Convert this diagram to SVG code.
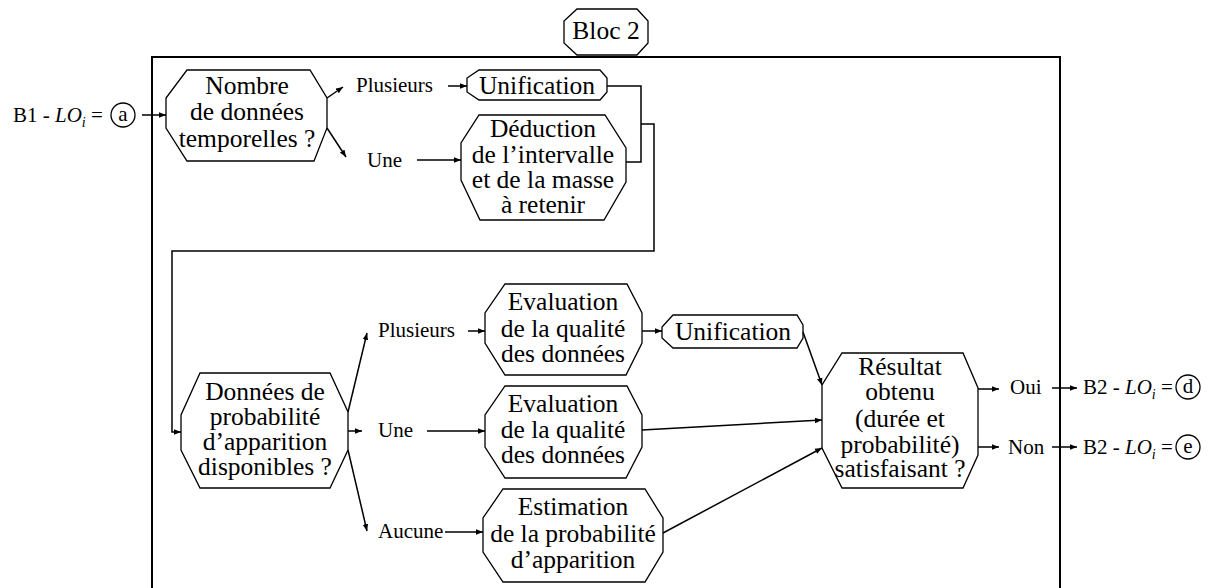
<svg xmlns="http://www.w3.org/2000/svg" width="1215" height="588" viewBox="0 0 1215 588">
<style>
.n{fill:#fff;stroke:#000;stroke-width:1.3}
text{font-family:"Liberation Serif","Times New Roman",serif;fill:#000}
.t{font-size:25.5px;text-anchor:middle}
.l{font-size:21px}
.c{fill:none;stroke:#000;stroke-width:1.5}
.a{fill:none;stroke:#000;stroke-width:1.5;marker-end:url(#ar)}
.ci{fill:#fff;stroke:#000;stroke-width:1.3}
</style>
<defs>
<marker id="ar" viewBox="0 0 10 10" refX="10" refY="5" markerWidth="7" markerHeight="7" markerUnits="userSpaceOnUse" orient="auto">
<path d="M0,1 L10,5 L0,9 Z" fill="#000"/>
</marker>
</defs>
<rect width="1215" height="588" fill="#fff"/>
<g id="frame"><path d="M152,592 V57 H1060 V592" fill="none" stroke="#000" stroke-width="2"/></g>
<g id="bloc2"><polygon class="n" points="577,9 637,9 648,21 648,43 637,55 577,55 564,43 564,21"/><text class="t" x="606" y="39">Bloc 2</text></g>
<g id="input"><text class="l" x="13" y="122">B1 - <tspan font-style="italic">LO</tspan><tspan font-style="italic" font-size="14" dy="5">i</tspan><tspan dy="-5"> =</tspan></text><circle class="ci" cx="123" cy="115" r="12"/><text class="l" x="123" y="121" text-anchor="middle">a</text></g>
<g id="n1"><polygon class="n" points="187,70 310,70 327,98 327,128 314,161 187,161 166,128 166,98"/><text class="t" x="247" y="94">Nombre</text><text class="t" x="247" y="120">de données</text><text class="t" x="247" y="147">temporelles ?</text></g>
<g id="lbl1"><text class="l" x="356" y="92">Plusieurs</text><text class="l" x="367" y="167">Une</text></g>
<g id="unif1"><polygon class="n" points="479,70 600,70 607,78 607,92 600,100 479,100 467,92 467,78"/><text class="t" x="537" y="94">Unification</text></g>
<g id="deduc"><polygon class="n" points="479,115 605,115 626,148 626,182 604,220 480,220 461,180 461,143"/><text class="t" x="543" y="137">Déduction</text><text class="t" x="543" y="163">de l’intervalle</text><text class="t" x="543" y="188">et de la masse</text><text class="t" x="543" y="213">à retenir</text></g>
<g id="n2"><polygon class="n" points="200,373 330,373 348,412 348,450 330,488 200,488 181,450 181,415"/><text class="t" x="265" y="400">Données de</text><text class="t" x="265" y="425">probabilité</text><text class="t" x="265" y="450">d’apparition</text><text class="t" x="265" y="475">disponibles ?</text></g>
<g id="lbl2"><text class="l" x="378" y="337">Plusieurs</text><text class="l" x="378" y="437">Une</text><text class="l" x="378" y="538">Aucune</text></g>
<g id="eval1"><polygon class="n" points="505,284 627,284 642,313 642,343 626,375 505,375 485,343 485,313"/><text class="t" x="563" y="310">Evaluation</text><text class="t" x="563" y="337">de la qualité</text><text class="t" x="563" y="362">des données</text></g>
<g id="unif2"><polygon class="n" points="673,315 797,315 803,325 803,338 797,348 673,348 662,338 662,327"/><text class="t" x="733" y="340">Unification</text></g>
<g id="eval2"><polygon class="n" points="505,386 627,386 642,415 642,447 626,478 505,478 485,447 485,415"/><text class="t" x="563" y="412">Evaluation</text><text class="t" x="563" y="438">de la qualité</text><text class="t" x="563" y="463">des données</text></g>
<g id="estim"><polygon class="n" points="503,489 645,489 663,518 663,552 645,582 503,582 483,552 483,518"/><text class="t" x="573" y="515">Estimation</text><text class="t" x="573" y="542">de la probabilité</text><text class="t" x="573" y="568">d’apparition</text></g>
<g id="result"><polygon class="n" points="842,353 963,353 978,388 978,455 963,488 842,488 822,448 822,385"/><text class="t" x="900" y="375">Résultat</text><text class="t" x="900" y="400">obtenu</text><text class="t" x="900" y="427">(durée et</text><text class="t" x="900" y="453">probabilité)</text><text class="t" x="900" y="477">satisfaisant ?</text></g>
<g id="outputs"><text class="l" x="1010" y="394">Oui</text><text class="l" x="1008" y="454">Non</text>
<text class="l" x="1083" y="394">B2 - <tspan font-style="italic">LO</tspan><tspan font-style="italic" font-size="14" dy="5">i</tspan><tspan dy="-5"> =</tspan></text><circle class="ci" cx="1188" cy="387" r="12"/><text class="l" x="1188" y="393" text-anchor="middle">d</text>
<text class="l" x="1083" y="454">B2 - <tspan font-style="italic">LO</tspan><tspan font-style="italic" font-size="14" dy="5">i</tspan><tspan dy="-5"> =</tspan></text><circle class="ci" cx="1188" cy="447" r="12"/><text class="l" x="1188" y="453" text-anchor="middle">e</text></g>
<g id="connectors">
<path class="a" d="M142,115 H166"/>
<path class="a" d="M327,98 L343,87"/>
<path class="a" d="M327,128 L346,157"/>
<path class="a" d="M448,86 H467"/>
<path class="a" d="M417,160 H461"/>
<path class="c" d="M607,86 H641 V162 H626"/>
<path class="a" d="M641,124 H654 V251 H172 V432 H181"/>
<path class="a" d="M348,412 L367,333"/>
<path class="a" d="M348,431 H362"/>
<path class="a" d="M348,450 L367,531"/>
<path class="a" d="M468,331 H485"/>
<path class="a" d="M427,431 H485"/>
<path class="a" d="M445,532 H483"/>
<path class="a" d="M642,331 H662"/>
<path class="a" d="M803,332 L822,385"/>
<path class="a" d="M642,430 L822,420"/>
<path class="a" d="M663,533 L822,448"/>
<path class="a" d="M978,389 H999"/>
<path class="a" d="M978,447 H999"/>
<path class="a" d="M1052,388 H1077"/>
<path class="a" d="M1052,447 H1077"/>
</g>
</svg>
